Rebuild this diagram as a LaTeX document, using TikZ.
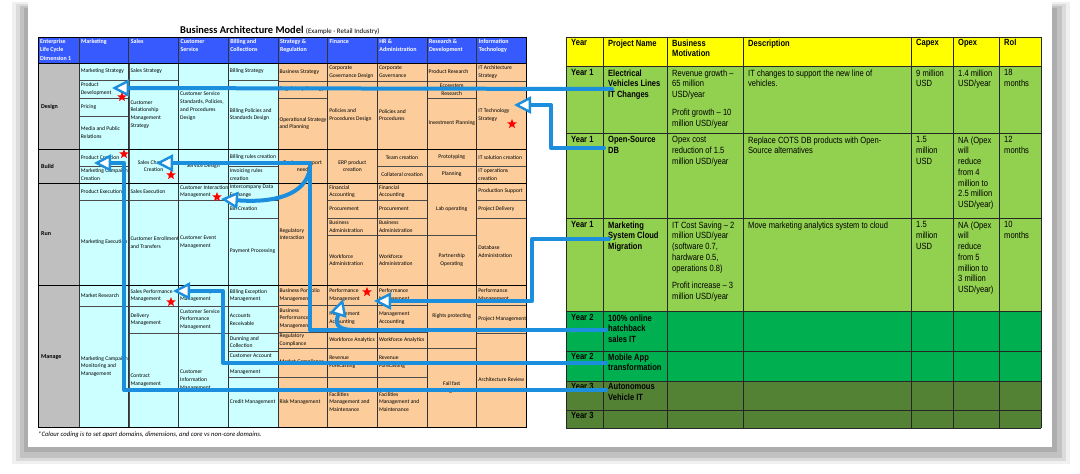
\documentclass[tikz,border=0pt]{standalone}
\usepackage{fontspec}
\setmainfont{Carlito}
\newfontfamily\arialn[FakeStretch=0.84]{Liberation Sans}
\usetikzlibrary{arrows.meta,shapes.geometric}
\definecolor{hdrblue}{RGB}{55,90,255}
\definecolor{lcyan}{RGB}{204,255,255}
\definecolor{peach}{RGB}{252,205,155}
\definecolor{lgray}{RGB}{191,191,191}
\definecolor{tyellow}{RGB}{255,255,0}
\definecolor{lgreen}{RGB}{146,208,80}
\definecolor{mgreen}{RGB}{0,176,80}
\definecolor{olivegr}{RGB}{84,130,53}
\definecolor{flowblue}{RGB}{27,142,222}
\def\colM{79}\def\colS{128.7}\def\colC{178.4}\def\colB{228.1}\def\colG{277.8}
\def\colF{327.5}\def\colH{377.2}\def\colR{426.9}\def\colI{476.6}
\tikzset{
  cellline/.style={draw=black!70, line width=0.35pt},
  ctext/.style={font=\fontsize{5.6}{7.8}\selectfont, align=left, inner sep=0pt},
  htext/.style={font=\bfseries\fontsize{6}{8.3}\selectfont, text=white, align=left, inner sep=0pt, anchor=north west},
  rlabel/.style={font=\bfseries\fontsize{6}{7}\selectfont, inner sep=0pt, anchor=west},
  ttext/.style={font=\arialn\fontsize{9}{10.7}\selectfont, align=left, inner sep=0pt, anchor=north west},
  tbold/.style={ttext, font=\arialn\bfseries\fontsize{9}{10.7}\selectfont},
  tline/.style={draw=black!85, line width=0.8pt},
  gridline/.style={draw=black!80, line width=0.5pt},
  rowline/.style={draw=black, line width=0.9pt},
  flow/.style={draw=flowblue, line width=4pt, line join=round, line cap=round,
    -{Triangle[length=17pt,width=17pt,fill=white,line width=2.4pt]}},
  redstar/.style={star, star points=5, star point ratio=2.3, fill=red, draw=none, minimum size=10pt, inner sep=0pt},
}
\newcommand\bcell[5]{\draw[cellline] (#2,#3) rectangle ({#2+49.7},#4);
  \node[ctext,anchor=west] (#1) at ({#2+1.6},{(#3+#4)/2}) {#5};}
\newcommand\bcellc[5]{\draw[cellline] (#2,#3) rectangle ({#2+49.7},#4);
  \node[ctext,align=center] (#1) at ({#2+24.85},{(#3+#4)/2}) {#5};}
\newcommand\tcell[5]{\node[#1] (#2) at ({#3+5},{#4+3.5}) {#5};}
\begin{document}
\begin{tikzpicture}[x=1pt,y=-1pt]
\useasboundingbox (0,0) rectangle (1080,474);
\fill[white] (0,0) rectangle (1080,474);
% page shadow
\fill[black!6] (12,2) rectangle (1070,464);
\fill[black!14] (16,4) rectangle (1066,461);
\fill[black!24] (20,6) rectangle (1062,458);
\fill[black!32] (24,8) rectangle (1057,452);
\fill[white] (28,0) rectangle (1052,447);

% ---------- Business Architecture Model ----------
\node[font=\bfseries\fontsize{10.4}{12}\selectfont, anchor=base west, inner sep=0pt] (title) at (180,33) {Business Architecture Model};
\node[font=\fontsize{6.9}{8}\selectfont, anchor=base west, inner sep=0pt] (subtitle) at ([xshift=2pt]title.base east) {(Example - Retail Industry)};

\fill[hdrblue] (38,37) rectangle (526.3,63);
\fill[lgray] (38,63) rectangle (79,427);
\fill[lcyan] (79,63) rectangle (277.8,427);
\fill[peach] (277.8,63) rectangle (526.3,427);

% Design
\bcell{dM1}{\colM}{63}{80}{Marketing Strategy}
\bcell{dM2}{\colM}{80}{98}{Product\\Development}
\bcell{dM3}{\colM}{98}{116}{Pricing}
\bcell{dM4}{\colM}{116}{149}{Media and Public\\Relations}
\bcell{dS1}{\colS}{63}{80}{Sales Strategy}
\bcell{dS2}{\colS}{80}{149}{Customer\\Relationship\\Management\\Strategy}
\bcell{dC1}{\colC}{63}{149}{Customer Service\\Standards, Policies,\\and Procedures\\Design}
\bcell{dB1}{\colB}{63}{80}{Billing Strategy}
\bcell{dB2}{\colB}{80}{149}{Billing Policies and\\Standards Design}
\bcell{dG1}{\colG}{63}{81}{Business Strategy}
\bcell{dG2}{\colG}{81}{98}{Regulatory Strategy}
\bcell{dG3}{\colG}{98}{149}{Operational Strategy\\and Planning}
\bcell{dF1}{\colF}{63}{81}{Corporate\\Governance Design}
\bcell{dF2}{\colF}{81}{149}{Policies and\\Procedures Design}
\bcell{dH1}{\colH}{63}{81}{Corporate\\Governance}
\bcell{dH2}{\colH}{81}{149}{Policies and\\Procedures}
\bcell{dR1}{\colR}{63}{81}{Product Research}
\bcellc{dR2}{\colR}{81}{98}{Ecosystem\\Research}
\bcell{dR3}{\colR}{98}{149}{Investment Planning}
\bcell{dI1}{\colI}{63}{81}{IT Architecture\\Strategy}
\bcell{dI2}{\colI}{81}{149}{IT Technology\\Strategy}
% Build
\bcell{bM1}{\colM}{149}{166}{Product Creation}
\bcell{bM2}{\colM}{166}{183}{Marketing Campaign\\Creation}
\bcellc{bS1}{\colS}{149}{183}{Sales Channel\\Creation}
\bcellc{bC1}{\colC}{149}{183}{Service Design}
\bcell{bB1}{\colB}{149}{166}{Billing rules creation}
\bcell{bB2}{\colB}{166}{183}{Invoicing rules\\creation}
\bcellc{bG1}{\colG}{149}{183}{Business support\\need}
\bcellc{bF1}{\colF}{149}{183}{ERP product\\creation}
\bcellc{bH1}{\colH}{149}{166}{Team creation}
\bcellc{bH2}{\colH}{166}{183}{Collateral creation}
\bcellc{bR1}{\colR}{149}{166}{Prototyping}
\bcellc{bR2}{\colR}{166}{183}{Planning}
\bcell{bI1}{\colI}{149}{166}{IT solution creation}
\bcell{bI2}{\colI}{166}{183}{IT operations\\creation}
% Run
\bcell{rM1}{\colM}{183}{200}{Product Execution}
\bcell{rM2}{\colM}{200}{285}{Marketing Execution}
\bcell{rS1}{\colS}{183}{200}{Sales Execution}
\bcell{rS2}{\colS}{200}{285}{Customer Enrollment\\and Transfers}
\bcell{rC1}{\colC}{183}{200}{Customer Interaction\\Management}
\bcell{rC2}{\colC}{200}{285}{Customer Event\\Management}
\bcell{rB1}{\colB}{183}{200}{Intercompany Data\\Exchange}
\bcell{rB2}{\colB}{200}{218}{Bill Creation}
\bcell{rB3}{\colB}{218}{285}{Payment Processing}
\bcell{rG1}{\colG}{183}{285}{Regulatory\\Interaction}
\bcell{rF1}{\colF}{183}{200}{Financial\\Accounting}
\bcell{rF2}{\colF}{200}{218}{Procurement}
\bcell{rF3}{\colF}{218}{235}{Business\\Administration}
\bcell{rF4}{\colF}{235}{285}{Workforce\\Administration}
\bcell{rH1}{\colH}{183}{200}{Financial\\Accounting}
\bcell{rH2}{\colH}{200}{218}{Procurement}
\bcell{rH3}{\colH}{218}{235}{Business\\Administration}
\bcell{rH4}{\colH}{235}{285}{Workforce\\Administration}
\bcellc{rR1}{\colR}{183}{235}{Lab operating}
\bcellc{rR2}{\colR}{235}{285}{Partnership\\Operating}
\bcell{rI1}{\colI}{183}{200}{Production Support}
\bcell{rI2}{\colI}{200}{218}{Project Delivery}
\bcell{rI3}{\colI}{218}{285}{Database\\Administration}
% Manage
\bcell{mM1}{\colM}{285}{306}{Market Research}
\bcell{mM2}{\colM}{306}{427}{Marketing Campaign\\Monitoring and\\Management}
\bcell{mS1}{\colS}{285}{306}{Sales Performance\\Management}
\bcell{mS2}{\colS}{306}{333}{Delivery\\Management}
\bcell{mS3}{\colS}{333}{427}{Contract\\Management}
\bcell{mC1}{\colC}{285}{306}{Sales Delivery\\Management}
\bcell{mC2}{\colC}{306}{333}{Customer Service\\Performance\\Management}
\bcell{mC3}{\colC}{333}{427}{Customer\\Information\\Management}
\bcell{mB1}{\colB}{285}{306}{Billing Exception\\Management}
\bcell{mB2}{\colB}{306}{333}{Accounts\\Receivable}
\bcell{mB3}{\colB}{333}{351}{Dunning and\\Collection}
\bcell{mB4}{\colB}{351}{377}{Customer Account\\Information\\Management}
\bcell{mB5}{\colB}{377}{427}{Credit Management}
\bcell{mG1}{\colG}{285}{305}{Business Portfolio\\Management}
\bcell{mG2}{\colG}{305}{332}{Business\\Performance\\Management}
\bcell{mG3}{\colG}{332}{348}{Regulatory\\Compliance}
\bcell{mG4}{\colG}{348}{377}{Market Compliance}
\bcell{mG5}{\colG}{377}{427}{Risk Management}
\bcell{mF1}{\colF}{285}{305}{Performance\\Management}
\bcell{mF2}{\colF}{305}{332}{Management\\Accounting}
\bcell{mF3}{\colF}{332}{348}{Workforce Analytics}
\bcell{mF4}{\colF}{348}{377}{Revenue\\Forecasting}
\bcell{mF5}{\colF}{377}{427}{Facilities\\Management and\\Maintenance}
\bcell{mH1}{\colH}{285}{305}{Performance\\Management}
\bcell{mH2}{\colH}{305}{332}{Management\\Accounting}
\bcell{mH3}{\colH}{332}{348}{Workforce Analytics}
\bcell{mH4}{\colH}{348}{377}{Revenue\\Forecasting}
\bcell{mH5}{\colH}{377}{427}{Facilities\\Management and\\Maintenance}
\bcellc{mR1}{\colR}{285}{348}{Rights protecting}
\bcellc{mR2}{\colR}{348}{427}{Fail fast\\management}
\bcell{mI1}{\colI}{285}{305}{Performance\\Management}
\bcell{mI2}{\colI}{305}{333}{Project Management}
\bcell{mI3}{\colI}{333}{427}{Architecture Review}

% major grid
\foreach \x in {79,128.7,178.4,228.1,277.8,327.5,377.2,426.9,476.6}
  \draw[gridline] (\x,37) -- (\x,427);
\foreach \y in {63,149,183,285}
  \draw[rowline] (38,\y) -- (526.3,\y);
\draw[rowline] (38,37) rectangle (526.3,427);

% header texts
\node[htext] (h0) at (40,39) {Enterprise\\Life Cycle\\Dimension 1};
\node[htext] (h1) at (81,39) {Marketing};
\node[htext] (h2) at (130.7,39) {Sales};
\node[htext] (h3) at (180.4,39) {Customer\\Service};
\node[htext] (h4) at (230.1,39) {Billing and\\Collections};
\node[htext] (h5) at (279.8,39) {Strategy \&\\Regulation};
\node[htext] (h6) at (329.5,39) {Finance};
\node[htext] (h7) at (379.2,39) {HR \&\\Administration};
\node[htext] (h8) at (428.9,39) {Research \&\\Development};
\node[htext] (h9) at (478.6,39) {Information\\Technology};

% row labels
\node[rlabel] (lDesign) at (41,107) {Design};
\node[rlabel] (lBuild) at (41,166) {Build};
\node[rlabel] (lRun) at (41,234) {Run};
\node[rlabel] (lManage) at (41,357) {Manage};

\node[font=\itshape\fontsize{6.7}{7.5}\selectfont, anchor=west, inner sep=0pt] (foot) at (38,435)
  {*Colour coding is to set apart domains, dimensions, and core vs non-core domains.};

% ---------- Project table ----------
\fill[tyellow] (566,37) rectangle (1041,66);
\fill[lgreen] (566,66) rectangle (1041,311);
\fill[mgreen] (566,311) rectangle (1041,381);
\fill[olivegr] (566,381) rectangle (1041,428);
\foreach \x in {566,603,667,743,911,953,999,1041}
  \draw[tline] (\x,37) -- (\x,428);
\foreach \y in {37,66,133,218,311,351,381,410,428}
  \draw[tline] (566,\y) -- (1041,\y);

\tcell{tbold}{hYear}{566}{36}{Year}
\tcell{tbold}{hProj}{603}{36}{Project Name}
\tcell{tbold}{hBM}{667}{36}{Business\\Motivation}
\tcell{tbold}{hDesc}{743}{36}{Description}
\tcell{tbold}{hCap}{911}{36}{Capex}
\tcell{tbold}{hOpex}{953}{36}{Opex}
\tcell{tbold}{hRoi}{999}{36}{RoI}

\tcell{tbold}{yr1}{566}{66}{Year 1}
\tcell{tbold}{pEV}{603}{66}{Electrical\\Vehicles Lines\\IT Changes}
\tcell{ttext}{bm1}{667}{66}{Revenue growth –\\65 million\\USD/year\\[7pt]Profit growth – 10\\million USD/year}
\tcell{ttext}{ds1}{743}{66}{IT changes to support the new line of\\vehicles.}
\tcell{ttext}{cp1}{911}{66}{9 million\\USD}
\tcell{ttext}{op1}{953}{66}{1.4 million\\USD/year}
\tcell{ttext}{ro1}{999}{66}{18\\months}

\tcell{tbold}{yr2}{566}{133}{Year 1}
\tcell{tbold}{pOS}{603}{133}{Open-Source\\DB}
\tcell{ttext}{bm2}{667}{133}{Opex cost\\reduction of 1.5\\million USD/year}
\tcell{ttext}{ds2}{743}{133}{Replace COTS DB products with Open-\\Source alternatives}
\tcell{ttext}{cp2}{911}{133}{1.5\\million\\USD}
\tcell{ttext}{op2}{953}{133}{NA (Opex\\will\\reduce\\from 4\\million to\\2.5 million\\USD/year)}
\tcell{ttext}{ro2}{999}{133}{12\\months}

\tcell{tbold}{yr3}{566}{218}{Year 1}
\tcell{tbold}{pMC}{603}{218}{Marketing\\System Cloud\\Migration}
\tcell{ttext}{bm3}{667}{218}{IT Cost Saving – 2\\million USD/year\\(software 0.7,\\hardware 0.5,\\operations 0.8)\\[7pt]Profit increase – 3\\million USD/year}
\tcell{ttext}{ds3}{743}{218}{Move marketing analytics system to cloud}
\tcell{ttext}{cp3}{911}{218}{1.5\\million\\USD}
\tcell{ttext}{op3}{953}{218}{NA (Opex\\will\\reduce\\from 5\\million to\\3 million\\USD/year)}
\tcell{ttext}{ro3}{999}{218}{10\\months}

\tcell{tbold}{yr4}{566}{311}{Year 2}
\tcell{tbold}{pHB}{603}{311}{100\% online\\hatchback\\sales IT}
\tcell{tbold}{yr5}{566}{350}{Year 2}
\tcell{tbold}{pMA}{603}{350}{Mobile App\\transformation}
\tcell{tbold}{yr6}{566}{380}{Year 3}
\tcell{tbold}{pAV}{603}{380}{Autonomous\\Vehicle IT}
\tcell{tbold}{yr7}{566}{409}{Year 3}

% ---------- connectors ----------
\coordinate (eEV) at (612,89);
\coordinate (eOS) at (604,148);
\coordinate (eMC) at (609,239);
\coordinate (eHB) at (606,330);
\coordinate (eMA) at (606,363);
\coordinate (eAV) at (606,390);
\coordinate (tPD) at (112,88);
\coordinate (tIT) at (514,105);
\coordinate (tPM) at (374,301);
\coordinate (tSC) at (156,163);
\coordinate (tCI) at (221,199);
\coordinate (tMA) at (343,299);
\coordinate (tSP) at (173,291);
\coordinate (tPC) at (94,163);

\draw[flow] (eEV) -- (tPD);
\draw[flow] (eOS) -- (551,148) -- (551,105) -- (tIT);
\draw[flow] (eMC) -- (532,239) -- (532,301) -- (tPM);
\draw[flow] (eHB) -- (310,330) -- (310,163) -- (tSC);
\draw[flow] (310,168) .. controls (306,196) and (272,203) .. (tCI);
\draw[flow] (360,330) .. controls (333,331) and (336,322) .. (tMA);
\draw[flow] (eMA) -- (223,363) -- (223,291) -- (tSP);
\draw[flow] (eAV) -- (124,390) -- (124,163) -- (tPC);

% stars
\node[redstar] (s1) at (122,97) {};
\node[redstar] (s2) at (512,124) {};
\node[redstar] (s3) at (124,154) {};
\node[redstar] (s4) at (171,175) {};
\node[redstar] (s5) at (217,197) {};
\node[redstar] (s6) at (171,302) {};
\node[redstar] (s7) at (367,292) {};
\end{tikzpicture}
\end{document}
